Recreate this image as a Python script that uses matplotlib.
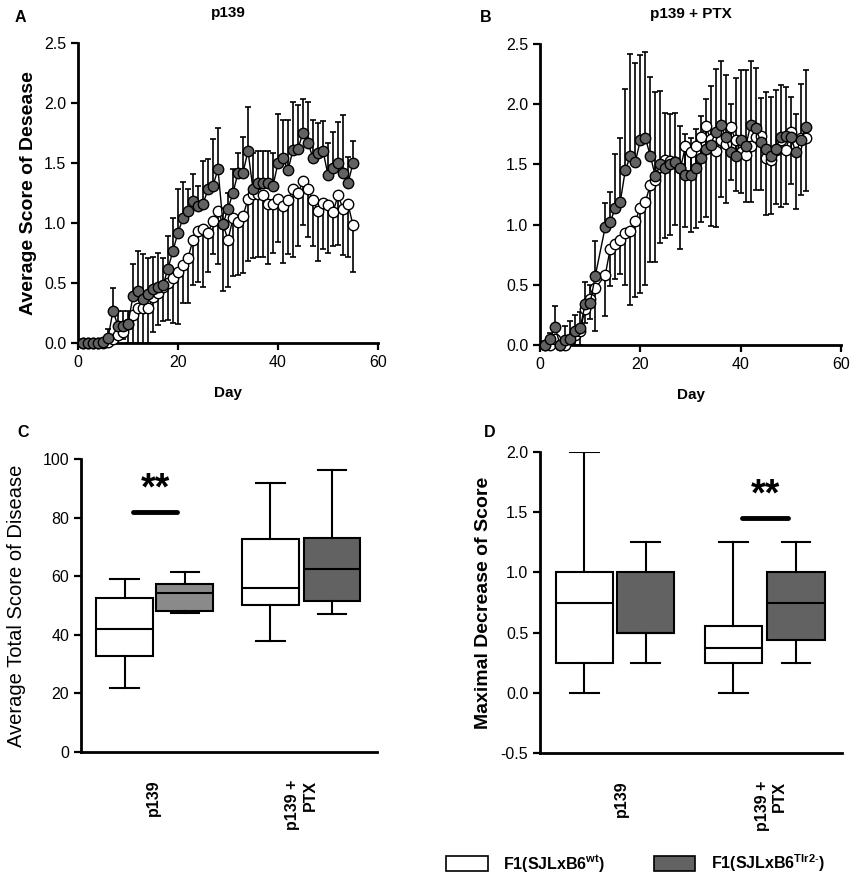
import numpy as np
import matplotlib
matplotlib.use("Agg")
import matplotlib.pyplot as plt
from matplotlib.patches import Patch

plt.rcParams['font.family'] = ['Liberation Sans', 'DejaVu Sans']
plt.rcParams['mathtext.fontset'] = 'custom'
plt.rcParams['mathtext.rm'] = 'Liberation Sans'
plt.rcParams['mathtext.bf'] = 'Liberation Sans:bold'

# ---------------- panel A : p139 ----------------
days_a = list(range(1, 56))
tlr2_a = [0, 0, 0, 0, 0.01, 0.04, 0.27, 0.14, 0.14, 0.16,
          0.39, 0.43, 0.37, 0.41, 0.45, 0.47, 0.48, 0.62, 0.77, 0.92,
          1.04, 1.10, 1.18, 1.14, 1.16, 1.28, 1.31, 1.45, 0.99, 1.12,
          1.25, 1.42, 1.42, 1.60, 1.28, 1.33, 1.33, 1.33, 1.31, 1.50,
          1.54, 1.44, 1.61, 1.62, 1.75, 1.67, 1.54, 1.58, 1.60, 1.40,
          1.46, 1.50, 1.42, 1.33, 1.50]
tlr2_a_top = [0, 0, 0, 0, 0.03, 0.12, 0.46, 0.27, 0.27, 0.27,
              0.66, 0.77, 0.74, 0.71, 0.72, 0.75, 0.71, 0.89, 1.04, 1.28,
              1.34, 1.28, 1.41, 1.31, 1.52, 1.53, 1.70, 1.79, 1.10, 1.25,
              1.45, 1.58, 1.72, 1.97, 1.58, 1.60, 1.60, 1.60, 1.58, 1.91,
              1.86, 1.86, 2.01, 1.98, 2.03, 2.01, 1.86, 1.83, 1.85, 1.67,
              1.76, 1.84, 1.90, 1.55, 1.68]
wt_a = [0, 0, 0, 0, 0, 0.01, 0.03, 0.07, 0.09, 0.16,
        0.23, 0.29, 0.29, 0.29, 0.38, 0.42, 0.47, 0.50, 0.54, 0.59,
        0.65, 0.71, 0.86, 0.93, 0.95, 0.92, 1.02, 1.10, 0.99, 0.86,
        1.04, 1.01, 1.06, 1.20, 1.24, 1.24, 1.23, 1.16, 1.16, 1.20,
        1.14, 1.19, 1.28, 1.25, 1.35, 1.28, 1.19, 1.10, 1.17, 1.15,
        1.09, 1.23, 1.12, 1.16, 0.98]
wt_a_low = [0, 0, 0, 0, 0, 0, 0, 0.03, 0.03, 0,
            0, 0, 0, 0, 0.09, 0.15, 0.18, 0.19, 0.17, 0.16,
            0.33, 0.33, 0.48, 0.51, 0.47, 0.59, 0.74, 0.66, 0.43, 0.47,
            0.56, 0.57, 0.58, 0.68, 0.71, 0.72, 0.72, 0.66, 0.75, 0.84,
            0.67, 0.74, 0.72, 0.81, 0.98, 0.88, 0.81, 0.68, 0.78, 0.75,
            0.81, 0.82, 0.73, 0.72, 0.59]

# ---------------- panel B : p139 + PTX ----------------
days_b = list(range(1, 12)) + list(range(13, 54))
tlr2_b = [0, 0.05, 0.15, 0.0, 0.04, 0.05, 0.12, 0.14, 0.34, 0.35, 0.57,
          0.98, 1.02, 1.14, 1.19, 1.45, 1.57, 1.52, 1.70, 1.72, 1.57,
          1.40, 1.50, 1.47, 1.50, 1.52, 1.47, 1.41, 1.41, 1.47, 1.55,
          1.63, 1.66, 1.77, 1.83, 1.73, 1.60, 1.57, 1.70, 1.65, 1.83,
          1.80, 1.69, 1.63, 1.57, 1.63, 1.73, 1.74, 1.73, 1.60, 1.70, 1.81]
tlr2_b_top = [0, 0.10, 0.32, 0.0, 0.16, 0.20, 0.25, 0.27, 0.52, 0.50, 0.86,
              1.18, 1.27, 1.59, 1.72, 2.13, 2.42, 2.34, 2.41, 2.43, 2.23,
              2.10, 2.11, 1.93, 1.92, 1.93, 1.82, 1.75, 1.72, 1.79, 1.90,
              2.04, 2.15, 2.29, 2.36, 2.24, 2.00, 2.22, 2.28, 2.28, 2.36,
              2.30, 2.05, 2.10, 2.06, 2.12, 2.16, 2.14, 2.06, 1.92, 2.17, 2.28]
wt_b = [0, 0, 0.05, 0, 0, 0.05, 0.08, 0.12, 0.30, 0.38, 0.47,
        0.58, 0.80, 0.84, 0.87, 0.93, 0.95, 1.03, 1.14, 1.19, 1.33,
        1.37, 1.48, 1.54, 1.53, 1.52, 1.47, 1.65, 1.60, 1.65, 1.73,
        1.82, 1.71, 1.61, 1.70, 1.67, 1.81, 1.70, 1.60, 1.58, 1.65,
        1.73, 1.74, 1.55, 1.54, 1.62, 1.70, 1.62, 1.77, 1.65, 1.72, 1.72]
wt_b_low = [0, 0, 0, 0, 0, 0, 0, 0, 0.18, 0.22, 0.12,
            0.24, 0.49, 0.55, 0.59, 0.50, 0.33, 0.40, 0.43, 0.50, 0.69,
            0.69, 0.85, 0.89, 0.91, 1.00, 0.80, 0.98, 0.94, 0.97, 1.02,
            1.06, 0.99, 0.98, 1.23, 1.18, 1.37, 1.28, 1.26, 1.19, 1.19,
            1.29, 1.29, 1.08, 1.09, 1.17, 1.15, 1.17, 1.34, 1.13, 1.25, 1.28]

# ---------------- panels C and D : box plots ----------------
groups = ['p139', 'p139 +\nPTX']
# order: p139 wt, p139 Tlr2, PTX wt, PTX Tlr2 ; (whislo, q1, med, q3, whishi)
total_score = [(21.7, 32.6, 41.9, 52.7, 58.9),
               (47.4, 48.2, 54.3, 57.3, 61.3),
               (37.8, 50.1, 55.9, 72.6, 91.7),
               (47.2, 51.6, 62.3, 73.2, 96.3)]
max_decrease = [(0.0, 0.25, 0.75, 1.0, 2.0),
                (0.25, 0.5, 0.5, 1.0, 1.25),
                (0.0, 0.25, 0.37, 0.555, 1.25),
                (0.25, 0.44, 0.75, 1.0, 1.25)]
sig_c = 82
sig_d = 1.45

DARK = '#626262'
W, H = 861, 877
fig = plt.figure(figsize=(W / 100, H / 100), dpi=100)


def box(px_l, px_t, px_r, px_b):
    return [px_l / W, 1 - px_b / H, (px_r - px_l) / W, (px_b - px_t) / H]


def style(ax):
    for s in ['top', 'right']:
        ax.spines[s].set_visible(False)
    for s in ['left', 'bottom']:
        ax.spines[s].set_linewidth(2.0)
    ax.tick_params(direction='out', length=5, width=1.6, labelsize=11.5)


def course(ax, d, dark, dark_top, white, white_low):
    d = np.array(d)
    dark = np.array(dark)
    white = np.array(white)
    up = np.array(dark_top) - dark
    dn = white - np.array(white_low)
    ax.errorbar(d, dark, yerr=[np.zeros_like(up), up], fmt='none', ecolor='black',
                elinewidth=1.2, capsize=2, capthick=1.2, zorder=1, clip_on=False)
    ax.errorbar(d, white, yerr=[dn, np.zeros_like(dn)], fmt='none', ecolor='black',
                elinewidth=1.2, capsize=2, capthick=1.2, zorder=1, clip_on=False)
    ax.plot(d, white, '-o', color='black', lw=1, mfc='white', mec='black', ms=7.5,
            mew=1, zorder=3, clip_on=False)
    ax.plot(d, dark, '-o', color='black', lw=1, mfc=DARK, mec='black', ms=7.5,
            mew=1, zorder=4, clip_on=False)
    ax.set_xlim(0, 60)
    ax.set_ylim(0, 2.5)
    ax.set_xticks([0, 20, 40, 60])
    ax.set_yticks([0, 0.5, 1.0, 1.5, 2.0, 2.5])
    ax.set_yticklabels(['0.0', '0.5', '1.0', '1.5', '2.0', '2.5'])
    ax.set_xlabel('Day', fontweight='bold', fontsize=11, labelpad=12)
    style(ax)


ax_a = fig.add_axes(box(78, 43, 378, 343))
course(ax_a, days_a, tlr2_a, tlr2_a_top, wt_a, wt_a_low)
ax_a.set_ylabel('Average Score of Desease', fontweight='bold', fontsize=14, labelpad=5)
ax_a.set_title('p139', fontweight='bold', fontsize=11, pad=19)

ax_b = fig.add_axes(box(540, 44, 841, 345))
course(ax_b, days_b, tlr2_b, tlr2_b_top, wt_b, wt_b_low)
ax_b.set_title('p139 + PTX', fontweight='bold', fontsize=11, pad=19)

positions = [0.147, 0.35, 0.64, 0.848]
fills_c = ['white', '#8a8a8a', 'white', DARK]
fills_d = ['white', DARK, 'white', DARK]


def boxes(ax, data, fills, ticks):
    stats = [dict(whislo=s[0], q1=s[1], med=s[2], q3=s[3], whishi=s[4]) for s in data]
    bp = ax.bxp(stats, positions=positions, widths=0.19, capwidths=0.095,
                showfliers=False, patch_artist=True,
                boxprops=dict(lw=1.5, edgecolor='black'),
                whiskerprops=dict(lw=1.5, color='black'),
                capprops=dict(lw=1.5, color='black'),
                medianprops=dict(lw=1.5, color='black'))
    for p, c in zip(bp['boxes'], fills):
        p.set_facecolor(c)
    ax.set_xlim(0, 1)
    ax.set_xticks(ticks)
    ax.set_xticklabels(groups, rotation=90, fontweight='bold', fontsize=11.5,
                       va='top', ha='center', multialignment='right')
    style(ax)
    ax.tick_params(axis='x', length=0, pad=20)


ax_c = fig.add_axes(box(81, 459, 377, 752))
boxes(ax_c, total_score, fills_c, [0.245, 0.745])
ax_c.set_ylim(0, 100)
ax_c.set_yticks([0, 20, 40, 60, 80, 100])
ax_c.set_ylabel('Average Total Score of Disease', fontsize=14.5, labelpad=12)
ax_c.plot([0.175, 0.325], [sig_c, sig_c], color='black', lw=3.5, solid_capstyle='round')
ax_c.text(0.25, sig_c + 1.5, '**', ha='center', va='bottom', fontsize=27, fontweight='bold')

ax_d = fig.add_axes(box(540, 452, 842, 753))
boxes(ax_d, max_decrease, fills_d, [0.27, 0.765])
ax_d.set_ylim(-0.5, 2.0)
ax_d.set_yticks([-0.5, 0, 0.5, 1.0, 1.5, 2.0])
ax_d.set_yticklabels(['-0.5', '0.0', '0.5', '1.0', '1.5', '2.0'])
ax_d.set_ylabel('Maximal Decrease of Score', fontweight='bold', fontsize=14, labelpad=6)
ax_d.plot([0.67, 0.82], [sig_d, sig_d], color='black', lw=3.5, solid_capstyle='round')
ax_d.text(0.745, sig_d + 0.04, '**', ha='center', va='bottom', fontsize=27, fontweight='bold')

# panel letters
for lab, x, y in [('A', 15, 18), ('B', 480, 18), ('C', 17, 432), ('D', 484, 432)]:
    fig.text(x / W, 1 - y / H, lab, fontweight='bold', fontsize=11.5, va='center')

handles = [Patch(facecolor='white', edgecolor='black', lw=1.2),
           Patch(facecolor=DARK, edgecolor='black', lw=1.2)]
labels = [r'F1(SJLxB6$^{\mathbf{wt}}$)', r'F1(SJLxB6$^{\mathbf{Tlr2\text{-}}}$)']
leg = fig.legend(handles, labels, loc='center left', bbox_to_anchor=(446 / W, 1 - 863 / H),
                 ncol=2, frameon=False, handlelength=2.6, handleheight=1.0,
                 columnspacing=3.0, handletextpad=1.0, borderpad=0, borderaxespad=0,
                 prop=dict(weight='bold', size=11.5))

fig.savefig('out.png', dpi=100)
